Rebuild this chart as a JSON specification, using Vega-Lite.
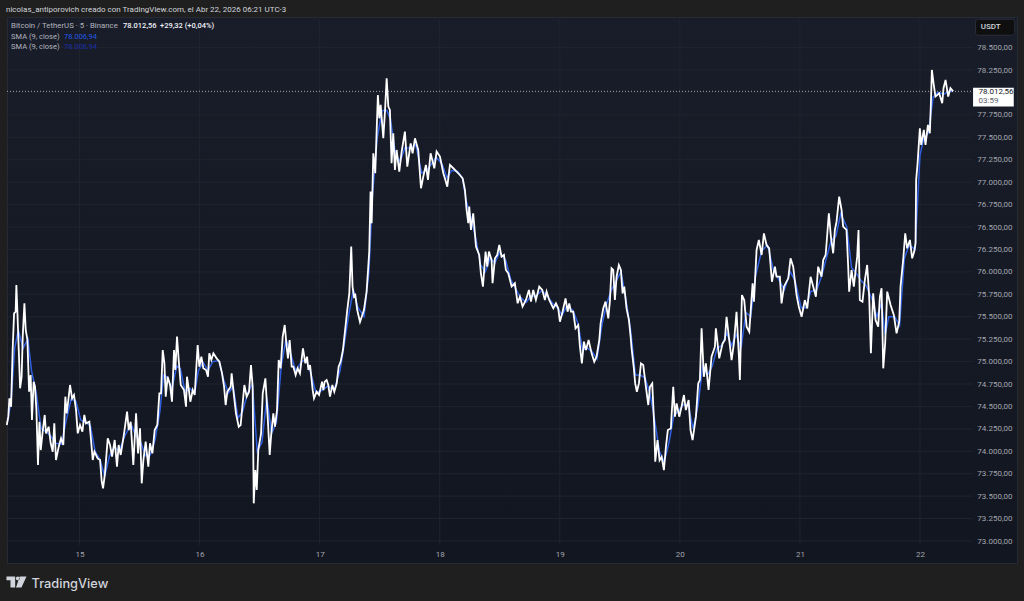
{
  "$schema": "https://vega.github.io/schema/vega-lite/v6.json",
  "width": 1010,
  "height": 546,
  "autosize": "none",
  "padding": {"left": 7, "top": 17, "right": 7, "bottom": 38},
  "background": "#1f1f1f",
  "config": {"axis": {"labelOverlap": false, "labelBound": false, "labelFlush": false}},
  "title": {"text": "nicolas_antiporovich creado con TradingView.com, el Abr 22, 2026 06:21 UTC-3", "anchor": "start", "frame": "group", "offset": 3, "dx": -1, "font": "Roboto", "fontSize": 8, "fontWeight": "normal", "color": "#d1d4dc"},
  "view": {"stroke": "#262a35", "fill": {"gradient": "linear", "x1": 0, "y1": 0, "x2": 0, "y2": 1, "stops": [{"offset": 0, "color": "#191d29"}, {"offset": 1, "color": "#121620"}]}},
  "data": {"name": "one"},
  "datasets": {
    "one": [{}],
    "vgrid": [{"t": 15}, {"t": 16}, {"t": 17}, {"t": 18}, {"t": 19}, {"t": 20}, {"t": 21}, {"t": 22}],
    "hgrid": [{"p": 73000}, {"p": 73250}, {"p": 73500}, {"p": 73750}, {"p": 74000}, {"p": 74250}, {"p": 74500}, {"p": 74750}, {"p": 75000}, {"p": 75250}, {"p": 75500}, {"p": 75750}, {"p": 76000}, {"p": 76250}, {"p": 76500}, {"p": 76750}, {"p": 77000}, {"p": 77250}, {"p": 77500}, {"p": 77750}, {"p": 78000}, {"p": 78250}, {"p": 78500}],
    "sma": [
      {"t":14.40,"p":74330},{"t":14.43,"p":74560},{"t":14.46,"p":75150},{"t":14.49,"p":75350},{"t":14.53,"p":75150},{"t":14.57,"p":75250},{"t":14.60,"p":74900},{"t":14.64,"p":74650},{"t":14.68,"p":74250},{"t":14.72,"p":74220},{"t":14.76,"p":74170},{"t":14.80,"p":74090},{"t":14.85,"p":74080},{"t":14.89,"p":74350},{"t":14.93,"p":74580},{"t":14.97,"p":74560},{"t":15.01,"p":74350},{"t":15.05,"p":74320},{"t":15.09,"p":74290},{"t":15.13,"p":74000},{"t":15.17,"p":73910},{"t":15.21,"p":73720},{"t":15.25,"p":73950},{"t":15.29,"p":74050},{"t":15.33,"p":74000},{"t":15.38,"p":74180},{"t":15.43,"p":74300},{"t":15.47,"p":74170},{"t":15.51,"p":74100},{"t":15.55,"p":73950},{"t":15.59,"p":73960},{"t":15.63,"p":74130},{"t":15.67,"p":74450},{"t":15.70,"p":74850},{"t":15.73,"p":74830},{"t":15.77,"p":74700},{"t":15.81,"p":74950},{"t":15.84,"p":74920},{"t":15.88,"p":74660},{"t":15.92,"p":74700},{"t":15.96,"p":74650},{"t":15.99,"p":74900},{"t":16.03,"p":74990},{"t":16.07,"p":74900},{"t":16.11,"p":75000},{"t":16.16,"p":75010},{"t":16.20,"p":74800},{"t":16.24,"p":74650},{"t":16.28,"p":74720},{"t":16.32,"p":74370},{"t":16.36,"p":74450},{"t":16.40,"p":74650},{"t":16.44,"p":74750},{"t":16.48,"p":74000},{"t":16.52,"p":74100},{"t":16.56,"p":74600},{"t":16.60,"p":74200},{"t":16.64,"p":74320},{"t":16.68,"p":74950},{"t":16.72,"p":75250},{"t":16.76,"p":75080},{"t":16.80,"p":74900},{"t":16.85,"p":75000},{"t":16.89,"p":75020},{"t":16.93,"p":74850},{"t":16.97,"p":74650},{"t":17.02,"p":74680},{"t":17.07,"p":74730},{"t":17.12,"p":74680},{"t":17.17,"p":74900},{"t":17.20,"p":75150},{"t":17.24,"p":75500},{"t":17.28,"p":75800},{"t":17.32,"p":75600},{"t":17.37,"p":75500},{"t":17.41,"p":76000},{"t":17.44,"p":76850},{"t":17.48,"p":77500},{"t":17.52,"p":77800},{"t":17.56,"p":77800},{"t":17.59,"p":77700},{"t":17.63,"p":77330},{"t":17.67,"p":77230},{"t":17.71,"p":77380},{"t":17.76,"p":77380},{"t":17.80,"p":77420},{"t":17.85,"p":77100},{"t":17.89,"p":77130},{"t":17.93,"p":77200},{"t":17.97,"p":77280},{"t":18.02,"p":77200},{"t":18.06,"p":77050},{"t":18.10,"p":77130},{"t":18.15,"p":77120},{"t":18.19,"p":77040},{"t":18.22,"p":76800},{"t":18.26,"p":76600},{"t":18.30,"p":76380},{"t":18.34,"p":76080},{"t":18.38,"p":76000},{"t":18.42,"p":76150},{"t":18.46,"p":76100},{"t":18.50,"p":76220},{"t":18.55,"p":76130},{"t":18.59,"p":75920},{"t":18.63,"p":75820},{"t":18.67,"p":75720},{"t":18.72,"p":75660},{"t":18.76,"p":75730},{"t":18.80,"p":75730},{"t":18.85,"p":75790},{"t":18.89,"p":75740},{"t":18.94,"p":75650},{"t":18.98,"p":75600},{"t":19.02,"p":75520},{"t":19.06,"p":75620},{"t":19.11,"p":75570},{"t":19.15,"p":75430},{"t":19.19,"p":75130},{"t":19.23,"p":75150},{"t":19.27,"p":75110},{"t":19.31,"p":75030},{"t":19.35,"p":75400},{"t":19.39,"p":75640},{"t":19.43,"p":75800},{"t":19.47,"p":75900},{"t":19.51,"p":76000},{"t":19.55,"p":75700},{"t":19.59,"p":75350},{"t":19.63,"p":74850},{"t":19.67,"p":74850},{"t":19.71,"p":74820},{"t":19.75,"p":74650},{"t":19.79,"p":74350},{"t":19.83,"p":74000},{"t":19.87,"p":73880},{"t":19.91,"p":74100},{"t":19.95,"p":74400},{"t":19.99,"p":74450},{"t":20.03,"p":74520},{"t":20.07,"p":74520},{"t":20.11,"p":74250},{"t":20.15,"p":74500},{"t":20.19,"p":74950},{"t":20.23,"p":74850},{"t":20.27,"p":74950},{"t":20.31,"p":75150},{"t":20.35,"p":75180},{"t":20.39,"p":75320},{"t":20.43,"p":75180},{"t":20.47,"p":75300},{"t":20.51,"p":75150},{"t":20.55,"p":75550},{"t":20.59,"p":75500},{"t":20.63,"p":75950},{"t":20.68,"p":76230},{"t":20.73,"p":76300},{"t":20.78,"p":76020},{"t":20.83,"p":75900},{"t":20.87,"p":75800},{"t":20.92,"p":76000},{"t":20.96,"p":75900},{"t":21.01,"p":75600},{"t":21.05,"p":75600},{"t":21.09,"p":75780},{"t":21.14,"p":75800},{"t":21.18,"p":75950},{"t":21.22,"p":76150},{"t":21.26,"p":76350},{"t":21.30,"p":76400},{"t":21.34,"p":76650},{"t":21.39,"p":76500},{"t":21.43,"p":76050},{"t":21.47,"p":75980},{"t":21.51,"p":75900},{"t":21.55,"p":75850},{"t":21.60,"p":75700},{"t":21.64,"p":75500},{"t":21.68,"p":75650},{"t":21.71,"p":75300},{"t":21.74,"p":75500},{"t":21.79,"p":75500},{"t":21.83,"p":75400},{"t":21.87,"p":76150},{"t":21.91,"p":76300},{"t":21.96,"p":76250},{"t":22.00,"p":77300},{"t":22.03,"p":77480},{"t":22.07,"p":77550},{"t":22.11,"p":77950},{"t":22.15,"p":78000},{"t":22.20,"p":77980},{"t":22.25,"p":78020},{"t":22.27,"p":78006.94}
    ],
    "price": [
      {"t":14.394,"p":74293},{"t":14.407,"p":74386},{"t":14.416,"p":74590},{"t":14.430,"p":74497},{"t":14.443,"p":75129},{"t":14.455,"p":75538},{"t":14.468,"p":75556},{"t":14.474,"p":75854},{"t":14.482,"p":75575},{"t":14.493,"p":75166},{"t":14.505,"p":74702},{"t":14.518,"p":74832},{"t":14.527,"p":75278},{"t":14.541,"p":75649},{"t":14.552,"p":75352},{"t":14.566,"p":75241},{"t":14.580,"p":74665},{"t":14.593,"p":74850},{"t":14.604,"p":74349},{"t":14.618,"p":74776},{"t":14.629,"p":74720},{"t":14.641,"p":74460},{"t":14.654,"p":73847},{"t":14.666,"p":74330},{"t":14.677,"p":74014},{"t":14.693,"p":74219},{"t":14.710,"p":74405},{"t":14.721,"p":74200},{"t":14.743,"p":74274},{"t":14.760,"p":74089},{"t":14.777,"p":73996},{"t":14.790,"p":74312},{"t":14.804,"p":73903},{"t":14.827,"p":74052},{"t":14.846,"p":74144},{"t":14.865,"p":74070},{"t":14.882,"p":74609},{"t":14.893,"p":74423},{"t":14.907,"p":74572},{"t":14.921,"p":74739},{"t":14.938,"p":74590},{"t":14.954,"p":74628},{"t":14.971,"p":74460},{"t":14.985,"p":74200},{"t":15.004,"p":74293},{"t":15.024,"p":74219},{"t":15.040,"p":74405},{"t":15.054,"p":74312},{"t":15.082,"p":74330},{"t":15.096,"p":74126},{"t":15.110,"p":73903},{"t":15.124,"p":73996},{"t":15.151,"p":73921},{"t":15.171,"p":73903},{"t":15.185,"p":73661},{"t":15.196,"p":73587},{"t":15.212,"p":73754},{"t":15.235,"p":74144},{"t":15.254,"p":74070},{"t":15.271,"p":73940},{"t":15.293,"p":74126},{"t":15.312,"p":73829},{"t":15.326,"p":74070},{"t":15.343,"p":73959},{"t":15.371,"p":74200},{"t":15.396,"p":74442},{"t":15.410,"p":74237},{"t":15.426,"p":74330},{"t":15.448,"p":73847},{"t":15.471,"p":74423},{"t":15.487,"p":73977},{"t":15.504,"p":74256},{"t":15.518,"p":73643},{"t":15.532,"p":73903},{"t":15.551,"p":74107},{"t":15.573,"p":73829},{"t":15.587,"p":74089},{"t":15.607,"p":73977},{"t":15.626,"p":74237},{"t":15.648,"p":74293},{"t":15.665,"p":74646},{"t":15.679,"p":74646},{"t":15.693,"p":75129},{"t":15.707,"p":74980},{"t":15.718,"p":74609},{"t":15.734,"p":74832},{"t":15.754,"p":74739},{"t":15.770,"p":74553},{"t":15.787,"p":75129},{"t":15.798,"p":74906},{"t":15.812,"p":75278},{"t":15.826,"p":75018},{"t":15.843,"p":74739},{"t":15.870,"p":74683},{"t":15.887,"p":74497},{"t":15.895,"p":74832},{"t":15.909,"p":74702},{"t":15.923,"p":74553},{"t":15.943,"p":74683},{"t":15.959,"p":74628},{"t":15.984,"p":75185},{"t":15.998,"p":74943},{"t":16.015,"p":75055},{"t":16.031,"p":74925},{"t":16.054,"p":74906},{"t":16.070,"p":74832},{"t":16.081,"p":75092},{"t":16.098,"p":75018},{"t":16.115,"p":75092},{"t":16.142,"p":75036},{"t":16.165,"p":74999},{"t":16.187,"p":74869},{"t":16.204,"p":74720},{"t":16.217,"p":74516},{"t":16.231,"p":74665},{"t":16.259,"p":74720},{"t":16.267,"p":74869},{"t":16.281,"p":74683},{"t":16.303,"p":74423},{"t":16.326,"p":74274},{"t":16.342,"p":74293},{"t":16.373,"p":74739},{"t":16.392,"p":74609},{"t":16.412,"p":74665},{"t":16.428,"p":74962},{"t":16.442,"p":74720},{"t":16.451,"p":73420},{"t":16.464,"p":73791},{"t":16.476,"p":73569},{"t":16.489,"p":74014},{"t":16.512,"p":74200},{"t":16.526,"p":74646},{"t":16.548,"p":74813},{"t":16.567,"p":74386},{"t":16.584,"p":73959},{"t":16.595,"p":74163},{"t":16.614,"p":74423},{"t":16.628,"p":74274},{"t":16.645,"p":74460},{"t":16.659,"p":75018},{"t":16.675,"p":74925},{"t":16.692,"p":75278},{"t":16.709,"p":75408},{"t":16.725,"p":75166},{"t":16.736,"p":75036},{"t":16.750,"p":75241},{"t":16.767,"p":74943},{"t":16.781,"p":74943},{"t":16.800,"p":74850},{"t":16.817,"p":74925},{"t":16.836,"p":74869},{"t":16.861,"p":75148},{"t":16.881,"p":74980},{"t":16.895,"p":75055},{"t":16.906,"p":74906},{"t":16.920,"p":74962},{"t":16.942,"p":74683},{"t":16.953,"p":74590},{"t":16.975,"p":74665},{"t":16.995,"p":74628},{"t":17.020,"p":74776},{"t":17.031,"p":74683},{"t":17.042,"p":74776},{"t":17.058,"p":74795},{"t":17.072,"p":74739},{"t":17.086,"p":74609},{"t":17.106,"p":74739},{"t":17.122,"p":74665},{"t":17.142,"p":74758},{"t":17.158,"p":74943},{"t":17.175,"p":75000},{"t":17.194,"p":75129},{"t":17.230,"p":75575},{"t":17.247,"p":75761},{"t":17.263,"p":76282},{"t":17.274,"p":75836},{"t":17.286,"p":75724},{"t":17.297,"p":75743},{"t":17.313,"p":75575},{"t":17.336,"p":75441},{"t":17.369,"p":75575},{"t":17.391,"p":75780},{"t":17.405,"p":76059},{"t":17.413,"p":76226},{"t":17.424,"p":76895},{"t":17.433,"p":76542},{"t":17.447,"p":77322},{"t":17.463,"p":77099},{"t":17.474,"p":77545},{"t":17.485,"p":77972},{"t":17.497,"p":77712},{"t":17.508,"p":77861},{"t":17.530,"p":77489},{"t":17.544,"p":77786},{"t":17.558,"p":78158},{"t":17.572,"p":77842},{"t":17.585,"p":77805},{"t":17.599,"p":77211},{"t":17.613,"p":77545},{"t":17.627,"p":77136},{"t":17.641,"p":77359},{"t":17.663,"p":77118},{"t":17.683,"p":77341},{"t":17.710,"p":77564},{"t":17.730,"p":77173},{"t":17.758,"p":77433},{"t":17.774,"p":77322},{"t":17.794,"p":77489},{"t":17.821,"p":77359},{"t":17.844,"p":76932},{"t":17.863,"p":77062},{"t":17.885,"p":77192},{"t":17.902,"p":77025},{"t":17.924,"p":77322},{"t":17.955,"p":77155},{"t":17.974,"p":77341},{"t":18.002,"p":77285},{"t":18.030,"p":77099},{"t":18.043,"p":77043},{"t":18.063,"p":76950},{"t":18.085,"p":77192},{"t":18.113,"p":77155},{"t":18.141,"p":77118},{"t":18.168,"p":77080},{"t":18.191,"p":77043},{"t":18.210,"p":76913},{"t":18.224,"p":76690},{"t":18.238,"p":76542},{"t":18.246,"p":76727},{"t":18.260,"p":76467},{"t":18.279,"p":76653},{"t":18.302,"p":76282},{"t":18.329,"p":76189},{"t":18.343,"p":75984},{"t":18.360,"p":75836},{"t":18.382,"p":76226},{"t":18.396,"p":76059},{"t":18.410,"p":76226},{"t":18.432,"p":76133},{"t":18.440,"p":75873},{"t":18.460,"p":76151},{"t":18.479,"p":76189},{"t":18.496,"p":76300},{"t":18.515,"p":76170},{"t":18.535,"p":76189},{"t":18.551,"p":76021},{"t":18.571,"p":75984},{"t":18.599,"p":75836},{"t":18.626,"p":75873},{"t":18.649,"p":75650},{"t":18.668,"p":75724},{"t":18.690,"p":75613},{"t":18.718,"p":75687},{"t":18.743,"p":75798},{"t":18.760,"p":75668},{"t":18.779,"p":75798},{"t":18.801,"p":75687},{"t":18.829,"p":75836},{"t":18.854,"p":75798},{"t":18.876,"p":75687},{"t":18.890,"p":75780},{"t":18.912,"p":75687},{"t":18.946,"p":75594},{"t":18.968,"p":75650},{"t":18.987,"p":75594},{"t":19.001,"p":75445},{"t":19.023,"p":75556},{"t":19.048,"p":75705},{"t":19.065,"p":75556},{"t":19.079,"p":75649},{"t":19.093,"p":75556},{"t":19.112,"p":75556},{"t":19.131,"p":75370},{"t":19.154,"p":75407},{"t":19.168,"p":75166},{"t":19.184,"p":74980},{"t":19.201,"p":75222},{"t":19.218,"p":75129},{"t":19.240,"p":75240},{"t":19.265,"p":75092},{"t":19.287,"p":74999},{"t":19.306,"p":75054},{"t":19.329,"p":75240},{"t":19.340,"p":75426},{"t":19.362,"p":75593},{"t":19.381,"p":75668},{"t":19.404,"p":75482},{"t":19.417,"p":75668},{"t":19.431,"p":76039},{"t":19.445,"p":76021},{"t":19.459,"p":75686},{"t":19.473,"p":75946},{"t":19.492,"p":76076},{"t":19.509,"p":76021},{"t":19.523,"p":75760},{"t":19.537,"p":75835},{"t":19.556,"p":75593},{"t":19.576,"p":75463},{"t":19.590,"p":75277},{"t":19.598,"p":75147},{"t":19.617,"p":74924},{"t":19.628,"p":74757},{"t":19.642,"p":74664},{"t":19.659,"p":74757},{"t":19.676,"p":74980},{"t":19.695,"p":74962},{"t":19.717,"p":74720},{"t":19.737,"p":74516},{"t":19.751,"p":74720},{"t":19.770,"p":74757},{"t":19.787,"p":74274},{"t":19.795,"p":73884},{"t":19.814,"p":74125},{"t":19.831,"p":73902},{"t":19.848,"p":73940},{"t":19.867,"p":73791},{"t":19.884,"p":74051},{"t":19.900,"p":74237},{"t":19.925,"p":74255},{"t":19.945,"p":74720},{"t":19.959,"p":74386},{"t":19.973,"p":74534},{"t":19.995,"p":74386},{"t":20.014,"p":74497},{"t":20.034,"p":74627},{"t":20.050,"p":74460},{"t":20.073,"p":74571},{"t":20.089,"p":74237},{"t":20.106,"p":74125},{"t":20.134,"p":74386},{"t":20.153,"p":74757},{"t":20.167,"p":74794},{"t":20.181,"p":75370},{"t":20.200,"p":74831},{"t":20.217,"p":74980},{"t":20.239,"p":74683},{"t":20.264,"p":75054},{"t":20.292,"p":75166},{"t":20.300,"p":75370},{"t":20.328,"p":75036},{"t":20.356,"p":75203},{"t":20.375,"p":75240},{"t":20.389,"p":75500},{"t":20.408,"p":75277},{"t":20.431,"p":75017},{"t":20.450,"p":75203},{"t":20.472,"p":75556},{"t":20.492,"p":75054},{"t":20.500,"p":74794},{"t":20.517,"p":75742},{"t":20.536,"p":75686},{"t":20.556,"p":75389},{"t":20.578,"p":75333},{"t":20.606,"p":75872},{"t":20.617,"p":75668},{"t":20.639,"p":76244},{"t":20.658,"p":76355},{"t":20.681,"p":76188},{"t":20.700,"p":76429},{"t":20.722,"p":76299},{"t":20.744,"p":76262},{"t":20.767,"p":75890},{"t":20.792,"p":76058},{"t":20.805,"p":75946},{"t":20.833,"p":75946},{"t":20.847,"p":75649},{"t":20.867,"p":75835},{"t":20.903,"p":75928},{"t":20.922,"p":76151},{"t":20.944,"p":76058},{"t":20.972,"p":75742},{"t":20.991,"p":75612},{"t":21.014,"p":75500},{"t":21.041,"p":75686},{"t":21.061,"p":75593},{"t":21.089,"p":75946},{"t":21.133,"p":75723},{"t":21.152,"p":76058},{"t":21.180,"p":75946},{"t":21.194,"p":76132},{"t":21.214,"p":76188},{"t":21.222,"p":76319},{"t":21.241,"p":76653},{"t":21.258,"p":76393},{"t":21.277,"p":76207},{"t":21.291,"p":76467},{"t":21.305,"p":76560},{"t":21.327,"p":76839},{"t":21.347,"p":76690},{"t":21.360,"p":76505},{"t":21.388,"p":76467},{"t":21.402,"p":76059},{"t":21.410,"p":75780},{"t":21.430,"p":76021},{"t":21.449,"p":75836},{"t":21.477,"p":76170},{"t":21.488,"p":76467},{"t":21.499,"p":75687},{"t":21.521,"p":75668},{"t":21.541,"p":75910},{"t":21.560,"p":76077},{"t":21.577,"p":75724},{"t":21.591,"p":75092},{"t":21.610,"p":75761},{"t":21.630,"p":75464},{"t":21.652,"p":75390},{"t":21.666,"p":75724},{"t":21.680,"p":75817},{"t":21.694,"p":74925},{"t":21.710,"p":75204},{"t":21.727,"p":75780},{"t":21.755,"p":75631},{"t":21.782,"p":75520},{"t":21.805,"p":75315},{"t":21.827,"p":75445},{"t":21.838,"p":75836},{"t":21.860,"p":76133},{"t":21.877,"p":76430},{"t":21.893,"p":76263},{"t":21.916,"p":76356},{"t":21.935,"p":76151},{"t":21.952,"p":76226},{"t":21.963,"p":76319},{"t":21.968,"p":77025},{"t":21.980,"p":77210},{"t":21.999,"p":77601},{"t":22.010,"p":77415},{"t":22.032,"p":77582},{"t":22.046,"p":77415},{"t":22.066,"p":77638},{"t":22.082,"p":77545},{"t":22.091,"p":77880},{"t":22.099,"p":78251},{"t":22.113,"p":78102},{"t":22.129,"p":77954},{"t":22.160,"p":77991},{"t":22.185,"p":77880},{"t":22.196,"p":78047},{"t":22.213,"p":78140},{"t":22.235,"p":77954},{"t":22.254,"p":78047},{"t":22.276,"p":78012.56}
    ]
  },
  "layer": [
    {
      "data": {"name": "vgrid"},
      "mark": {"type": "rule", "color": "#20242f", "strokeWidth": 1},
      "encoding": {
        "x": {
          "field": "t", "type": "quantitative",
          "scale": {"domain": [14.396, 22.808], "nice": false, "zero": false},
          "axis": {"orient": "bottom", "values": [15, 16, 17, 18, 19, 20, 21, 22], "format": "d", "grid": false, "domain": false, "ticks": false, "labelPadding": -9, "labelBaseline": "middle", "labelColor": "#a3a6af", "labelFont": "Roboto", "labelFontSize": 8, "title": "TradingView", "titleX": 24, "titleY": 24, "titleAlign": "left", "titleAnchor": "start", "titleBaseline": "alphabetic", "titleFont": "Inter", "titleFontSize": 12.8, "titleFontWeight": 500, "titleColor": "#d1d4dc"}
        },
        "y": {"datum": 78841},
        "y2": {"datum": 72955}
      }
    },
    {
      "data": {"name": "hgrid"},
      "mark": {"type": "rule", "color": "#20242f", "strokeWidth": 1},
      "encoding": {
        "y": {
          "field": "p", "type": "quantitative",
          "scale": {"domain": [72755, 78841], "nice": false, "zero": false},
          "axis": {"orient": "right", "values": [73000, 73250, 73500, 73750, 74000, 74250, 74500, 74750, 75000, 75250, 75500, 75750, 76000, 76250, 76500, 76750, 77000, 77250, 77500, 77750, 78250, 78500], "labelExpr": "replace(format(datum.value, ',d'), ',', '.') + ',00'", "labelOverlap": false, "labelBound": false, "tickCount": 23, "grid": false, "domain": false, "ticks": false, "labelPadding": -5, "labelAlign": "right", "labelColor": "#a3a6af", "labelFont": "Roboto", "labelFontSize": 8, "title": null}
        },
        "x": {"datum": 14.396},
        "x2": {"datum": 22.442}
      }
    },
    {
      "mark": {"type": "rule", "color": "#a8a8a8", "strokeWidth": 1, "strokeDash": [1, 2]},
      "encoding": {"y": {"datum": 78012.56}, "x": {"datum": 14.396}, "x2": {"datum": 22.442}}
    },
    {
      "data": {"name": "sma"},
      "mark": {"type": "line", "color": "#2f5fe0", "strokeWidth": 1.5},
      "encoding": {"x": {"field": "t", "type": "quantitative"}, "y": {"field": "p", "type": "quantitative"}}
    },
    {
      "data": {"name": "price"},
      "mark": {"type": "line", "color": "#ffffff", "strokeWidth": 1.8},
      "encoding": {"x": {"field": "t", "type": "quantitative"}, "y": {"field": "p", "type": "quantitative"}}
    },
    {
      "mark": {"type": "rect", "fill": "#0f0f0f", "stroke": "#2a2e39", "cornerRadius": 3},
      "encoding": {"x": {"datum": 22.462}, "x2": {"datum": 22.789}, "y": {"datum": 78816}, "y2": {"datum": 78638}}
    },
    {
      "mark": {"type": "text", "text": "USDT", "align": "left", "baseline": "middle", "font": "Roboto", "fontSize": 8, "fontWeight": 500, "color": "#d1d4dc"},
      "encoding": {"x": {"datum": 22.506}, "y": {"datum": 78725}}
    },
    {
      "mark": {"type": "rect", "fill": "#ffffff"},
      "encoding": {"x": {"datum": 22.442}, "x2": {"datum": 22.781}, "y": {"datum": 78053}, "y2": {"datum": 77842}}
    },
    {
      "mark": {"type": "text", "text": "78.012,56", "align": "left", "baseline": "middle", "font": "Roboto", "fontSize": 8, "color": "#131722"},
      "encoding": {"x": {"datum": 22.487}, "y": {"datum": 78005}}
    },
    {
      "mark": {"type": "text", "text": "03:59", "align": "left", "baseline": "middle", "font": "Roboto", "fontSize": 8, "color": "#5d606b"},
      "encoding": {"x": {"datum": 22.487}, "y": {"datum": 77908}}
    },
    {
      "mark": {"type": "text", "text": "Bitcoin / TetherUS · 5 · Binance", "align": "left", "baseline": "middle", "font": "Roboto", "fontSize": 7.8, "color": "#b2b5be"},
      "encoding": {"x": {"datum": 14.43}, "y": {"datum": 78741}}
    },
    {
      "mark": {"type": "text", "text": "78.012,56", "align": "left", "baseline": "middle", "font": "Roboto", "fontSize": 7.5, "fontWeight": 500, "color": "#f0f3fa"},
      "encoding": {"x": {"datum": 15.362}, "y": {"datum": 78741}}
    },
    {
      "mark": {"type": "text", "text": "+29,32 (+0,04%)", "align": "left", "baseline": "middle", "font": "Roboto", "fontSize": 7.5, "fontWeight": 500, "color": "#f0f3fa"},
      "encoding": {"x": {"datum": 15.67}, "y": {"datum": 78741}}
    },
    {
      "mark": {"type": "text", "text": "SMA (9, close)", "align": "left", "baseline": "middle", "font": "Roboto", "fontSize": 7.5, "color": "#b2b5be"},
      "encoding": {"x": {"datum": 14.43}, "y": {"datum": 78622}}
    },
    {
      "mark": {"type": "text", "text": "78.006,94", "align": "left", "baseline": "middle", "font": "Roboto", "fontSize": 7.5, "color": "#2257e6"},
      "encoding": {"x": {"datum": 14.871}, "y": {"datum": 78622}}
    },
    {
      "mark": {"type": "text", "text": "SMA (9, close)", "align": "left", "baseline": "middle", "font": "Roboto", "fontSize": 7.5, "color": "#b2b5be"},
      "encoding": {"x": {"datum": 14.43}, "y": {"datum": 78502}}
    },
    {
      "mark": {"type": "text", "text": "78.006,94", "align": "left", "baseline": "middle", "font": "Roboto", "fontSize": 7.5, "color": "#1a2fa8"},
      "encoding": {"x": {"datum": 14.871}, "y": {"datum": 78502}}
    },
    {
      "mark": {"type": "point", "filled": true, "opacity": 1, "size": 400, "color": "#d1d4dc", "shape": "M-1,-0.55H-0.13V0.55H-0.6V-0.18H-1ZM-0.06,-0.36a0.19,0.19 0 1 0 0.38,0a0.19,0.19 0 1 0 -0.38,0ZM0.33,-0.55H1L0.5,0.55H-0.05Z"},
      "encoding": {"x": {"datum": 14.475}, "y": {"datum": 72543}}
    }
  ]
}
